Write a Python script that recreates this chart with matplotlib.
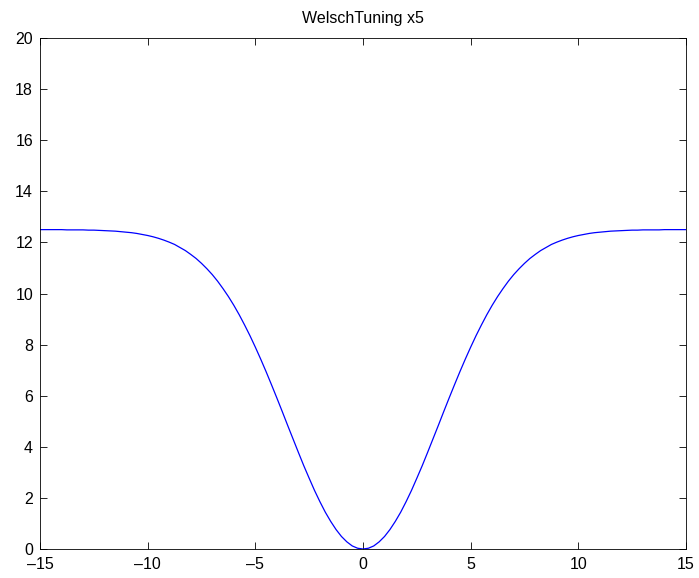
import matplotlib
matplotlib.use("Agg")
import matplotlib.pyplot as plt

x_vals = [-15.0, -14.75, -14.5, -14.25, -14.0, -13.75, -13.5, -13.25, -13.0, -12.75, -12.5, -12.25,
          -12.0, -11.75, -11.5, -11.25, -11.0, -10.75, -10.5, -10.25, -10.0, -9.75, -9.5, -9.25,
          -9.0, -8.75, -8.5, -8.25, -8.0, -7.75, -7.5, -7.25, -7.0, -6.75, -6.5, -6.25,
          -6.0, -5.75, -5.5, -5.25, -5.0, -4.75, -4.5, -4.25, -4.0, -3.75, -3.5, -3.25,
          -3.0, -2.75, -2.5, -2.25, -2.0, -1.75, -1.5, -1.25, -1.0, -0.75, -0.5, -0.25,
          0.0,
          0.25, 0.5, 0.75, 1.0, 1.25, 1.5, 1.75, 2.0, 2.25, 2.5, 2.75, 3.0,
          3.25, 3.5, 3.75, 4.0, 4.25, 4.5, 4.75, 5.0, 5.25, 5.5, 5.75, 6.0,
          6.25, 6.5, 6.75, 7.0, 7.25, 7.5, 7.75, 8.0, 8.25, 8.5, 8.75, 9.0,
          9.25, 9.5, 9.75, 10.0, 10.25, 10.5, 10.75, 11.0, 11.25, 11.5, 11.75, 12.0,
          12.25, 12.5, 12.75, 13.0, 13.25, 13.5, 13.75, 14.0, 14.25, 14.5, 14.75, 15.0]
y_vals = [12.50, 12.50, 12.50, 12.50, 12.50, 12.49, 12.49, 12.49, 12.49, 12.48, 12.48, 12.47,
          12.46, 12.45, 12.44, 12.42, 12.40, 12.38, 12.35, 12.31, 12.27, 12.22, 12.16, 12.09,
          12.01, 11.92, 11.80, 11.68, 11.53, 11.37, 11.18, 10.97, 10.74, 10.48, 10.19, 9.88,
          9.54, 9.17, 8.77, 8.35, 7.90, 7.43, 6.94, 6.43, 5.91, 5.38, 4.84, 4.31,
          3.78, 3.26, 2.77, 2.29, 1.85, 1.44, 1.08, 0.76, 0.49, 0.28, 0.12, 0.03,
          0.00,
          0.03, 0.12, 0.28, 0.49, 0.76, 1.08, 1.44, 1.85, 2.29, 2.77, 3.26, 3.78,
          4.31, 4.84, 5.38, 5.91, 6.43, 6.94, 7.43, 7.90, 8.35, 8.77, 9.17, 9.54,
          9.88, 10.19, 10.48, 10.74, 10.97, 11.18, 11.37, 11.53, 11.68, 11.80, 11.92, 12.01,
          12.09, 12.16, 12.22, 12.27, 12.31, 12.35, 12.38, 12.40, 12.42, 12.44, 12.45, 12.46,
          12.47, 12.48, 12.48, 12.49, 12.49, 12.49, 12.49, 12.50, 12.50, 12.50, 12.50, 12.50]
x_ticks = [-15, -10, -5, 0, 5, 10, 15]
y_ticks = [0, 2, 4, 6, 8, 10, 12, 14, 16, 18, 20]
title = "WelschTuning x5"

plt.rcParams['font.family'] = ['Liberation Sans', 'DejaVu Sans']
fig = plt.figure(figsize=(6.99, 5.78), dpi=100)
ax = fig.add_axes([40/699, 1-549/578, (686-40)/699, (549-38)/578])
ax.plot(x_vals, y_vals, color='#0000ff', lw=0.9)
ax.set_xlim(-15, 15)
ax.set_ylim(0, 20)
ax.set_xticks(x_ticks)
ax.set_yticks(y_ticks)
ax.set_xticklabels([f"\u2013{abs(t)}" if t < 0 else str(t) for t in x_ticks])
ax.tick_params(direction='in', top=True, right=True, labelsize=11.5, length=5, width=0.6)
ax.tick_params(axis='x', pad=6)
ax.tick_params(axis='y', pad=5)
for s in ax.spines.values():
    s.set_linewidth(0.6)
ax.set_title(title, fontsize=11.5, pad=11)
fig.savefig("out.png", dpi=100)
